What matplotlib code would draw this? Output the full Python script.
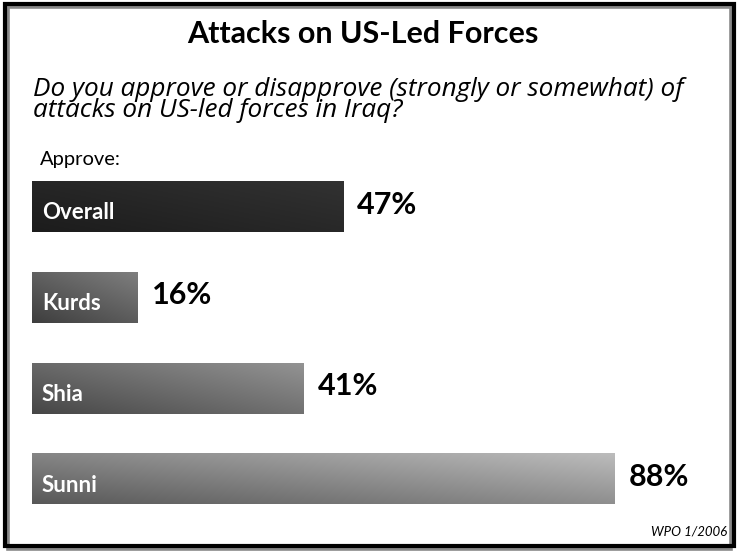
import numpy as np
import matplotlib
matplotlib.use("Agg")
import matplotlib.pyplot as plt
from matplotlib.patches import Rectangle

# ---- data ----
categories = ["Overall", "Kurds", "Shia", "Sunni"]
values = [47, 16, 41, 88]
value_labels = ["47%", "16%", "41%", "88%"]
title = "Attacks on US-Led Forces"
question = ("Do you approve or disapprove (strongly or somewhat) of\n"
            "attacks on US-led forces in Iraq?")
subhead = "Approve:"
source = "WPO 1/2006"

# gradient colors per bar (dark bottom-left -> light top-right)
grad_dark = ["#1c1c1c", "#3e3e3e", "#464646", "#585858"]
grad_light = ["#323232", "#7e7e7e", "#939393", "#bcbcbc"]

FONT = "Lato"
W, H = 739, 552
fig = plt.figure(figsize=(W / 100, H / 100), dpi=100)
fig.patch.set_facecolor("white")

def fx(px):
    return px / W

def fy(py):
    return 1 - py / H

shadow = Rectangle((fx(8), fy(549)), fx(731) - fx(8), fy(7) - fy(549),
                   transform=fig.transFigure, fill=False, lw=2.6,
                   edgecolor="#888888", zorder=0)
fig.patches.append(shadow)
frame = Rectangle((fx(5), fy(546)), fx(734) - fx(5), fy(4) - fy(546),
                  transform=fig.transFigure, fill=False, lw=3.0,
                  edgecolor="black", zorder=1)
fig.patches.append(frame)

ax = fig.add_axes([0, 0, 1, 1])
px_per_pct = 6.62
x0_px = 32
row_px = 90.8
c0_px = 206.5
ax.axis("off")
ax.patch.set_alpha(0)

bar_h = 0.56
for i, (cat, v, lab) in enumerate(zip(categories, values, value_labels)):
    ny, nx = 40, 200
    xx = np.linspace(0, 1, nx)[None, :]
    yy = np.linspace(0, 1, ny)[:, None]  # 0 = top row
    aspect = (v * px_per_pct) / (bar_h * row_px)
    t = (xx * min(aspect, 3) / 3 * 0.55 + (1 - yy) * 0.45)
    t = (t - t.min()) / (t.max() - t.min())
    c1 = np.array(matplotlib.colors.to_rgb(grad_dark[i]))
    c2 = np.array(matplotlib.colors.to_rgb(grad_light[i]))
    img = c1[None, None, :] * (1 - t[..., None]) + c2[None, None, :] * t[..., None]
    ax.imshow(img, extent=(0, v, i + bar_h / 2, i - bar_h / 2),
              aspect="auto", interpolation="bilinear", zorder=2)
    ax.text(10 / px_per_pct, i + 0.07, cat, color="white", fontsize=16,
            fontweight="bold", family=FONT, va="center", ha="left", zorder=3)
    ax.text(v + 14 / px_per_pct, i - 0.02, lab, color="black", fontsize=22,
            fontweight="bold", family=FONT, va="center", ha="left", zorder=3)

ax.set_xlim(-x0_px / px_per_pct, (W - x0_px) / px_per_pct)
ax.set_ylim((H - c0_px) / row_px, -c0_px / row_px)

fig.text(fx(363), fy(34), title, fontsize=22, fontweight="bold", family=FONT,
         ha="center", va="center")
fig.text(fx(33), fy(100), question, fontsize=18.8, style="italic",
         family="Open Sans", ha="left", va="center", linespacing=0.82)
fig.text(fx(40), fy(160), subhead, fontsize=14.5, family=FONT,
         ha="left", va="center")
fig.text(fx(727), fy(531), source, fontsize=9.5, style="italic", family=FONT,
         ha="right", va="center")

fig.savefig("out.png", dpi=100, facecolor="white")
